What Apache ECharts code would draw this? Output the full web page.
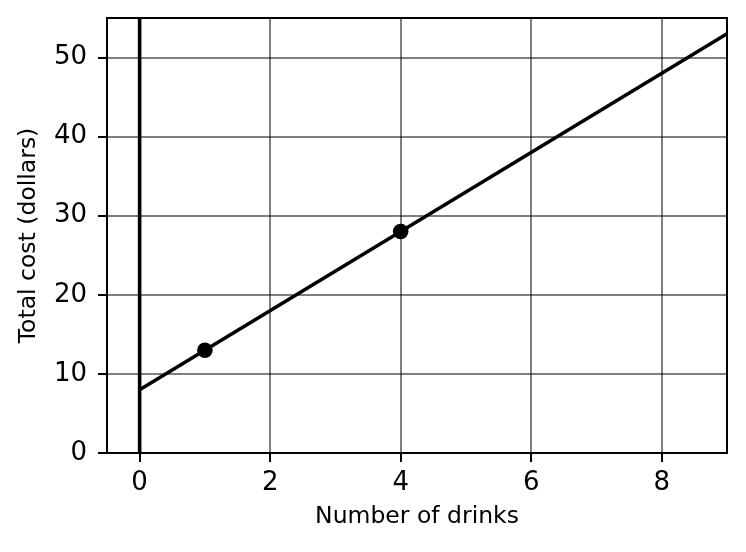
<!DOCTYPE html>
<html>
<head>
<meta charset="utf-8">
<script src="https://cdn.jsdelivr.net/npm/echarts@6/dist/echarts.min.js"></script>
<style>html,body{margin:0;padding:0;background:#fff}#c{width:746px;height:552px}</style>
</head>
<body>
<div id="c"></div>
<script>
// Data
var lineX = [0, 9];
var lineY = [8, 53];
var pointX = [1, 4];
var pointY = [13, 28];
var xTicks = [0, 2, 4, 6, 8];
var yTicks = [0, 10, 20, 30, 40, 50];
var verticalX = 0;
var xRange = [-0.5, 9];
var yRange = [0, 55];
var xTitle = 'Number of drinks';
var yTitle = 'Total cost (dollars)';

var chart = echarts.init(document.getElementById('c'), null, {renderer: 'canvas'});
var font = 'DejaVu Sans';
var gridLines = xTicks.map(function (v) { return {xAxis: v}; })
  .concat(yTicks.map(function (v) { return {yAxis: v}; }));

chart.setOption({
  animation: false,
  backgroundColor: '#fff',
  grid: {left: 107, right: 19, top: 18, bottom: 99, show: true, borderColor: '#000', borderWidth: 2, backgroundColor: 'transparent'},
  xAxis: {
    type: 'value', min: xRange[0], max: xRange[1],
    name: xTitle, nameLocation: 'middle', nameGap: 52,
    nameTextStyle: {fontFamily: font, fontSize: 23.5, color: '#000'},
    axisLine: {show: true, onZero: false, lineStyle: {color: '#000', width: 2}},
    axisTick: {show: true, inside: false, length: 9, lineStyle: {color: '#000', width: 2}, customValues: xTicks},
    axisLabel: {fontFamily: font, fontSize: 26, color: '#000', margin: 17, customValues: xTicks},
    splitLine: {show: false}
  },
  yAxis: {
    type: 'value', min: yRange[0], max: yRange[1],
    name: yTitle, nameLocation: 'middle', nameGap: 66, nameRotate: 90,
    nameTextStyle: {fontFamily: font, fontSize: 23.5, color: '#000'},
    axisLine: {show: true, onZero: false, lineStyle: {color: '#000', width: 2}},
    axisTick: {show: true, inside: false, length: 9, lineStyle: {color: '#000', width: 2}, customValues: yTicks},
    axisLabel: {fontFamily: font, fontSize: 26, color: '#000', margin: 20, customValues: yTicks},
    splitLine: {show: false}
  },
  series: [
    {
      type: 'line', data: [], silent: true, z: 1,
      markLine: {
        silent: true, symbol: ['none', 'none'], animation: false,
        label: {show: false},
        lineStyle: {color: 'rgba(0,0,0,0.5)', width: 2, type: 'solid'},
        data: gridLines
      }
    },
    {
      type: 'line', z: 3, symbol: 'none',
      data: [[verticalX, yRange[0]], [verticalX, yRange[1]]],
      lineStyle: {color: '#000', width: 3.6}
    },
    {
      type: 'line', z: 4, symbol: 'none',
      data: lineX.map(function (x, i) { return [x, lineY[i]]; }),
      lineStyle: {color: '#000', width: 3.5}
    },
    {
      type: 'scatter', z: 5, symbol: 'circle', symbolSize: 15.6,
      data: pointX.map(function (x, i) { return [x, pointY[i]]; }),
      itemStyle: {color: '#000', opacity: 1}
    }
  ]
});
</script>
</body>
</html>
